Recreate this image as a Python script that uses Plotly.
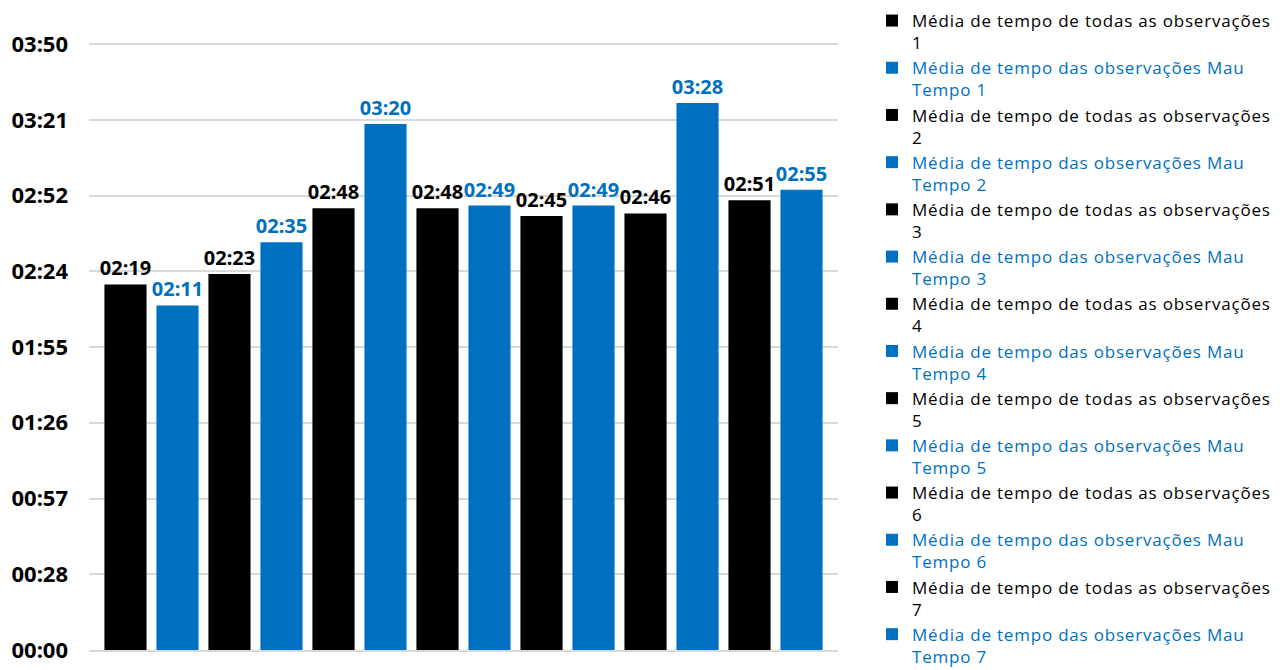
import plotly.graph_objects as go

BLACK = "#000000"
BLUE = "#0070C0"

series_names = []
for i in range(1, 8):
    series_names.append(f"Média de tempo de todas as observações<br>{i}")
    series_names.append(f"Média de tempo das observações Mau<br>Tempo {i}")

values_sec = [139, 131, 143, 155, 168, 200, 168, 169, 165, 169, 166, 208, 171, 175]
tick_vals = [0, 28.8, 57.6, 86.4, 115.2, 144, 172.8, 201.6, 230.4]
tick_text = ["00:00", "00:28", "00:57", "01:26", "01:55", "02:24", "02:52", "03:21", "03:50"]

FONT = "'Noto Sans', sans-serif"
LEG_FONT = "'Open Sans', 'Noto Sans', sans-serif"

def fmt(s):
    return f"{int(s)//60:02d}:{int(s)%60:02d}"

fig = go.Figure()
for i, (name, v) in enumerate(zip(series_names, values_sec)):
    col = BLACK if i % 2 == 0 else BLUE
    label = "<br>".join(
        f"<span style='color:{col};letter-spacing:0.8px'>{part}</span>" for part in name.split("<br>")
    )
    fig.add_trace(go.Bar(
        x=[""], y=[v], name=label,
        marker=dict(color=col, line=dict(width=0)),
        text=[fmt(v)], textposition="outside", constraintext="none",
        cliponaxis=False,
        textfont=dict(family=FONT, size=20, color=col, weight="bold"),
    ))

fig.update_layout(
    width=1288, height=670,
    margin=dict(l=89, r=450, t=43, b=20, autoexpand=False),
    paper_bgcolor="white", plot_bgcolor="white",
    barmode="group", bargap=0.028, bargroupgap=0.19,
    showlegend=True,
    legend=dict(
        x=872 / 1288, xref="container", xanchor="left",
        y=1.0 - 3 / 670, yref="container", yanchor="top",
        font=dict(family=LEG_FONT, size=17, color=BLACK),
        tracegroupgap=0, valign="top", itemwidth=30,
        bgcolor="rgba(0,0,0,0)", maxheight=700,
    ),
    font=dict(family=FONT),
)
fig.update_yaxes(
    range=[0, 230.8], tickvals=tick_vals, ticktext=tick_text,
    showgrid=True, gridcolor="#D9D9D9", gridwidth=1.5,
    zeroline=False, showline=False,
    tickfont=dict(family=FONT, size=22, color="black", weight="bold"),
    ticklabelstandoff=20,
)
fig.update_xaxes(showticklabels=False, showline=True, linecolor="#D9D9D9", linewidth=1.5)

fig.write_html("out.html")
